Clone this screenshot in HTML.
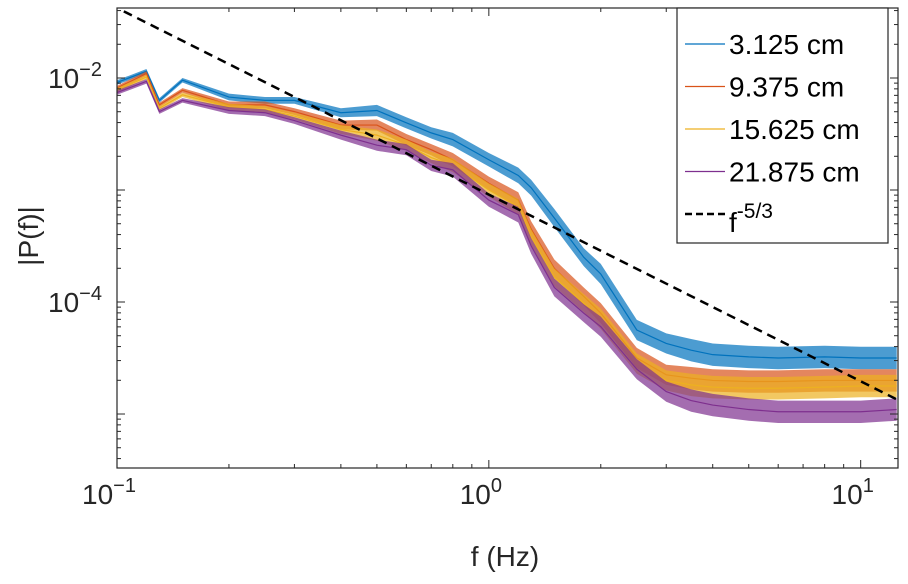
<!DOCTYPE html>
<html><head><meta charset="utf-8"><style>
body{margin:0;background:#fff;}
svg{display:block;font-family:"Liberation Sans",sans-serif;}
</style></head><body>
<svg id="chart" width="908" height="584" viewBox="0 0 908 584"></svg>
<script>
const freqs=[0.1,0.12,0.13,0.15,0.2,0.25,0.3,0.4,0.5,0.6,0.7,0.8,1.0,1.2,1.3,1.5,1.8,2.0,2.5,3,3.5,4,5,6,8,10,12.5];
const logP_3125=[-2.04,-1.94,-2.20,-2.02,-2.17,-2.20,-2.20,-2.31,-2.29,-2.40,-2.49,-2.55,-2.73,-2.87,-2.98,-3.25,-3.6,-3.75,-4.25,-4.37,-4.43,-4.47,-4.49,-4.50,-4.49,-4.50,-4.50];
const logP_9375=[-2.09,-1.96,-2.24,-2.11,-2.24,-2.24,-2.30,-2.42,-2.42,-2.55,-2.64,-2.73,-2.94,-3.09,-3.35,-3.70,-3.95,-4.10,-4.50,-4.65,-4.68,-4.70,-4.71,-4.71,-4.70,-4.70,-4.70];
const logP_15625=[-2.11,-1.99,-2.27,-2.15,-2.26,-2.28,-2.34,-2.46,-2.51,-2.60,-2.71,-2.78,-3.00,-3.15,-3.42,-3.78,-4.01,-4.15,-4.55,-4.70,-4.74,-4.76,-4.77,-4.77,-4.76,-4.75,-4.75];
const logP_21875=[-2.13,-2.03,-2.30,-2.20,-2.29,-2.31,-2.38,-2.51,-2.60,-2.64,-2.78,-2.82,-3.09,-3.22,-3.50,-3.87,-4.10,-4.22,-4.60,-4.80,-4.88,-4.92,-4.96,-4.98,-4.98,-4.98,-4.96];
const spread=[0.02,0.02,0.02,0.02,0.03,0.03,0.03,0.04,0.05,0.05,0.05,0.06,0.06,0.07,0.07,0.08,0.08,0.09,0.09,0.09,0.1,0.1,0.1,0.1,0.1,0.1,0.1];
const seriesNames=["3.125 cm","9.375 cm","15.625 cm","21.875 cm"];
const seriesColors=["#0072BD","#D95319","#EDB120","#7E2F8E"];
const refC=9.1e-4, refExp=-5/3;
const xTickLabels=["-1","0","1"];
const yTickLabels=["-2","-4"];

const L=117,R=898,T=8,B=468;
const xMin=-1,xMax=Math.log10(12.6),yMin=-5.482,yMax=-1.375;
const sx=f=>L+(Math.log10(f)-xMin)/(xMax-xMin)*(R-L);
const sy=lp=>B-(lp-yMin)/(yMax-yMin)*(B-T);
const svg=document.getElementById('chart');
const NS='http://www.w3.org/2000/svg';
function mk(tag,attrs,parent){const e=document.createElementNS(NS,tag);for(const k in attrs)e.setAttribute(k,attrs[k]);(parent||svg).appendChild(e);return e;}

const series=[logP_3125,logP_9375,logP_15625,logP_21875];
series.forEach((vals,i)=>{
  const up=freqs.map((f,j)=>sx(f)+','+sy(vals[j]+spread[j]));
  const dn=freqs.map((f,j)=>sx(f)+','+sy(vals[j]-spread[j])).reverse();
  const band=mk('polygon',{points:up.concat(dn).join(' '),fill:seriesColors[i],'fill-opacity':0.7,stroke:'none'});
  
  
  const ln=mk('polyline',{points:freqs.map((f,j)=>sx(f)+','+sy(vals[j])).join(' '),fill:'none',stroke:seriesColors[i],'stroke-width':1.2});
  
  
});
const fa=0.1043,fb=12.6;
const ref=mk('line',{x1:sx(fa),y1:sy(Math.log10(refC)+refExp*Math.log10(fa)),x2:sx(fb),y2:sy(Math.log10(refC)+refExp*Math.log10(fb)),stroke:'#000','stroke-width':2.5,'stroke-dasharray':'9,6'});



const box=mk('rect',{x:L,y:T,width:R-L,height:B-T,fill:'none',stroke:'#262626','stroke-width':1.2});


for(let d=-1;d<=1;d++){for(let m=1;m<10;m++){const f=m*Math.pow(10,d);if(f>12.6)continue;const x=sx(f);const len=m===1?8:4;
 mk('line',{x1:x,y1:B,x2:x,y2:B-len,stroke:'#262626'});mk('line',{x1:x,y1:T,x2:x,y2:T+len,stroke:'#262626'});}}
for(let d=-6;d<=-1;d++){for(let m=1;m<10;m++){const lp=d+Math.log10(m);if(lp<yMin||lp>yMax)continue;const y=sy(lp);const len=m===1?8:4;
 mk('line',{x1:L,y1:y,x2:L+len,y2:y,stroke:'#262626'});mk('line',{x1:R,y1:y,x2:R-len,y2:y,stroke:'#262626'});}}
xTickLabels.forEach((e,i)=>{
  const t=mk('text',{x:sx(Math.pow(10,+e))-8,y:504,'font-size':28,fill:'#262626','text-anchor':'middle'});
  
  
  t.innerHTML='10<tspan dy="-12" font-size="20">'+e.replace('-','\u2212')+'</tspan>';
});
yTickLabels.forEach((e,i)=>{
  const t=mk('text',{x:48,y:sy(+e)+10,'font-size':28,fill:'#262626'});
  
  
  t.innerHTML='10<tspan dy="-12" font-size="20">'+e.replace('-','\u2212')+'</tspan>';
});
const xt=mk('text',{x:505,y:566,'font-size':28,fill:'#262626','text-anchor':'middle'});


xt.textContent='f (Hz)';
const yt=mk('text',{x:0,y:0,'font-size':28,fill:'#262626','text-anchor':'middle',transform:'translate(38,236) rotate(-90)'});


yt.textContent='|P(f)|';

const lg=mk('rect',{x:677,y:8,width:211,height:235,fill:'#fff',stroke:'#262626','stroke-width':1.2});


seriesNames.forEach((n,i)=>{
  const y=44+i*42.5;
  const l=mk('line',{x1:685,y1:y,x2:725,y2:y,stroke:seriesColors[i],'stroke-width':1.2});
  
  
  const t=mk('text',{x:729,y:y+10,'font-size':28,fill:'#000'});
  
  
  t.textContent=n;
});
const rl=mk('line',{x1:685,y1:214,x2:725,y2:214,stroke:'#000','stroke-width':2.5,'stroke-dasharray':'7,4'});


const rt=mk('text',{x:729,y:232,'font-size':28,fill:'#000'});


rt.innerHTML='f<tspan dy="-14" font-size="21">-5/3</tspan>';
</script>
</body></html>
